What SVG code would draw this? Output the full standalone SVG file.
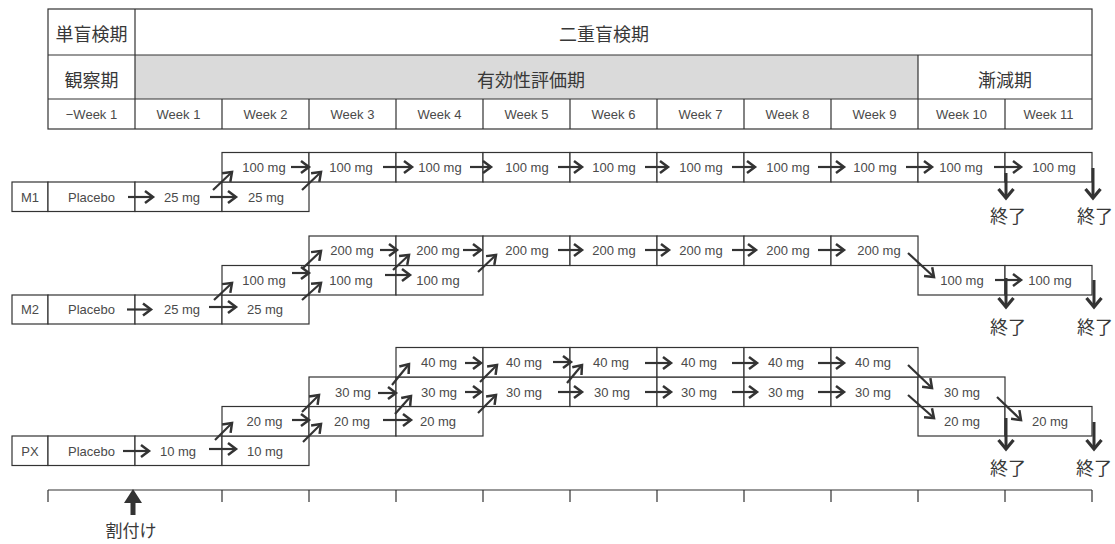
<svg xmlns="http://www.w3.org/2000/svg" width="1115" height="544" viewBox="0 0 1115 544">
<style>
  .cell{fill:#fff;stroke:#333;stroke-width:1.2}
  .ln{stroke:#333;stroke-width:1.2;fill:none}
  .t{font-family:"Liberation Sans",Arial,sans-serif;font-size:13px;fill:#4a4a4a;text-anchor:middle;dominant-baseline:central}
  .j{font-family:"Noto Sans CJK JP","Noto Sans CJK SC",sans-serif;font-size:18px;fill:#383838;text-anchor:middle;dominant-baseline:central}
  .a{stroke:#333;stroke-width:2.2;fill:none;marker-end:url(#ah)}
  .v{stroke:#333;stroke-width:3;fill:none;marker-end:url(#av)}
</style>
<defs>
  <marker id="ah" markerUnits="userSpaceOnUse" markerWidth="16" markerHeight="16" viewBox="-10 -8 12 16" refX="0" refY="0" orient="auto" overflow="visible">
    <path d="M-8,-6 L0,0 L-8,6" fill="none" stroke="#333" stroke-width="2.5"/>
  </marker>
  <marker id="av" markerUnits="userSpaceOnUse" markerWidth="20" markerHeight="20" viewBox="-12 -10 14 20" refX="0" refY="0" orient="auto" overflow="visible">
    <path d="M-9,-7.5 L0,0 L-9,7.5" fill="none" stroke="#333" stroke-width="3.2"/>
  </marker>
</defs>
<rect width="1115" height="544" fill="#fff"/>

<g id="header">
  <rect x="135" y="55" width="783" height="44" fill="#dadada"/>
  <rect x="48" y="9" width="1044" height="120" class="ln"/>
  <line x1="48" y1="55" x2="1092" y2="55" class="ln"/>
  <line x1="48" y1="99" x2="1092" y2="99" class="ln"/>
  <line x1="135" y1="9" x2="135" y2="129" class="ln"/>
  <line x1="918" y1="55" x2="918" y2="129" class="ln"/>
  <path class="ln" d="M222,99V129M309,99V129M396,99V129M483,99V129M570,99V129M657,99V129M744,99V129M831,99V129M1005,99V129"/>
  <text class="j" x="91.5" y="33">単盲検期</text>
  <text class="j" x="604" y="33">二重盲検期</text>
  <text class="j" x="91.5" y="79">観察期</text>
  <text class="j" x="531" y="79">有効性評価期</text>
  <text class="j" x="1005" y="79">漸減期</text>
  <text class="t" x="91.5" y="114">−Week 1</text>
  <text class="t" x="178.5" y="114">Week 1</text>
  <text class="t" x="265.5" y="114">Week 2</text>
  <text class="t" x="352.5" y="114">Week 3</text>
  <text class="t" x="439.5" y="114">Week 4</text>
  <text class="t" x="526.5" y="114">Week 5</text>
  <text class="t" x="613.5" y="114">Week 6</text>
  <text class="t" x="700.5" y="114">Week 7</text>
  <text class="t" x="787.5" y="114">Week 8</text>
  <text class="t" x="874.5" y="114">Week 9</text>
  <text class="t" x="961.5" y="114">Week 10</text>
  <text class="t" x="1048.5" y="114">Week 11</text>
</g>

<g id="M1">
  <rect class="cell" x="12" y="182" width="36" height="29.5"/>
  <rect class="cell" x="48" y="182" width="87" height="29.5"/>
  <rect class="cell" x="135" y="182" width="87" height="29.5"/>
  <rect class="cell" x="222" y="182" width="87" height="29.5"/>
  <rect class="cell" x="222" y="152.5" width="87" height="29.5"/>
  <rect class="cell" x="309" y="152.5" width="87" height="29.5"/>
  <rect class="cell" x="396" y="152.5" width="87" height="29.5"/>
  <rect class="cell" x="483" y="152.5" width="87" height="29.5"/>
  <rect class="cell" x="570" y="152.5" width="87" height="29.5"/>
  <rect class="cell" x="657" y="152.5" width="87" height="29.5"/>
  <rect class="cell" x="744" y="152.5" width="87" height="29.5"/>
  <rect class="cell" x="831" y="152.5" width="87" height="29.5"/>
  <rect class="cell" x="918" y="152.5" width="87" height="29.5"/>
  <rect class="cell" x="1005" y="152.5" width="87" height="29.5"/>
  <text class="t" x="30" y="197">M1</text>
  <text class="t" x="91.5" y="197">Placebo</text>
  <text class="t" x="182" y="197">25 mg</text>
  <text class="t" x="266" y="197">25 mg</text>
  <text class="t" x="264" y="167">100 mg</text>
  <text class="t" x="351" y="167">100 mg</text>
  <text class="t" x="440" y="167">100 mg</text>
  <text class="t" x="527" y="167">100 mg</text>
  <text class="t" x="614" y="167">100 mg</text>
  <text class="t" x="701" y="167">100 mg</text>
  <text class="t" x="788" y="167">100 mg</text>
  <text class="t" x="875" y="167">100 mg</text>
  <text class="t" x="961" y="167">100 mg</text>
  <text class="t" x="1054" y="167">100 mg</text>
  <text class="j" x="1008" y="215">終了</text>
  <text class="j" x="1095" y="215">終了</text>
</g>

<g id="M2">
  <rect class="cell" x="12" y="295" width="36" height="29"/>
  <rect class="cell" x="48" y="295" width="87" height="29"/>
  <rect class="cell" x="135" y="295" width="87" height="29"/>
  <rect class="cell" x="222" y="295" width="87" height="29"/>
  <rect class="cell" x="222" y="265.5" width="87" height="29.5"/>
  <rect class="cell" x="309" y="265.5" width="87" height="29.5"/>
  <rect class="cell" x="396" y="265.5" width="87" height="29.5"/>
  <rect class="cell" x="918" y="265.5" width="87" height="29.5"/>
  <rect class="cell" x="1005" y="265.5" width="87" height="29.5"/>
  <rect class="cell" x="309" y="236" width="87" height="29.5"/>
  <rect class="cell" x="396" y="236" width="87" height="29.5"/>
  <rect class="cell" x="483" y="236" width="87" height="29.5"/>
  <rect class="cell" x="570" y="236" width="87" height="29.5"/>
  <rect class="cell" x="657" y="236" width="87" height="29.5"/>
  <rect class="cell" x="744" y="236" width="87" height="29.5"/>
  <rect class="cell" x="831" y="236" width="87" height="29.5"/>
  <text class="t" x="30" y="309.5">M2</text>
  <text class="t" x="91.5" y="309.5">Placebo</text>
  <text class="t" x="182" y="309.5">25 mg</text>
  <text class="t" x="265" y="309.5">25 mg</text>
  <text class="t" x="264" y="280">100 mg</text>
  <text class="t" x="351" y="280">100 mg</text>
  <text class="t" x="438" y="280">100 mg</text>
  <text class="t" x="962" y="280">100 mg</text>
  <text class="t" x="1050" y="280">100 mg</text>
  <text class="t" x="352" y="250.5">200 mg</text>
  <text class="t" x="438" y="250.5">200 mg</text>
  <text class="t" x="527" y="250.5">200 mg</text>
  <text class="t" x="614" y="250.5">200 mg</text>
  <text class="t" x="701" y="250.5">200 mg</text>
  <text class="t" x="788" y="250.5">200 mg</text>
  <text class="t" x="879" y="250.5">200 mg</text>
  <text class="j" x="1008" y="326">終了</text>
  <text class="j" x="1095" y="326">終了</text>
</g>

<g id="PX">
  <rect class="cell" x="12" y="436" width="36" height="29.5"/>
  <rect class="cell" x="48" y="436" width="87" height="29.5"/>
  <rect class="cell" x="135" y="436" width="87" height="29.5"/>
  <rect class="cell" x="222" y="436" width="87" height="29.5"/>
  <rect class="cell" x="222" y="406.5" width="87" height="29.5"/>
  <rect class="cell" x="309" y="406.5" width="87" height="29.5"/>
  <rect class="cell" x="396" y="406.5" width="87" height="29.5"/>
  <rect class="cell" x="918" y="406.5" width="87" height="29.5"/>
  <rect class="cell" x="1005" y="406.5" width="87" height="29.5"/>
  <rect class="cell" x="309" y="377" width="87" height="29.5"/>
  <rect class="cell" x="396" y="377" width="87" height="29.5"/>
  <rect class="cell" x="483" y="377" width="87" height="29.5"/>
  <rect class="cell" x="570" y="377" width="87" height="29.5"/>
  <rect class="cell" x="657" y="377" width="87" height="29.5"/>
  <rect class="cell" x="744" y="377" width="87" height="29.5"/>
  <rect class="cell" x="831" y="377" width="87" height="29.5"/>
  <rect class="cell" x="918" y="377" width="87" height="29.5"/>
  <rect class="cell" x="396" y="347.5" width="87" height="29.5"/>
  <rect class="cell" x="483" y="347.5" width="87" height="29.5"/>
  <rect class="cell" x="570" y="347.5" width="87" height="29.5"/>
  <rect class="cell" x="657" y="347.5" width="87" height="29.5"/>
  <rect class="cell" x="744" y="347.5" width="87" height="29.5"/>
  <rect class="cell" x="831" y="347.5" width="87" height="29.5"/>
  <text class="t" x="30" y="451">PX</text>
  <text class="t" x="91.5" y="451">Placebo</text>
  <text class="t" x="178" y="451">10 mg</text>
  <text class="t" x="265" y="451">10 mg</text>
  <text class="t" x="264.5" y="421.5">20 mg</text>
  <text class="t" x="352" y="421.5">20 mg</text>
  <text class="t" x="438" y="421.5">20 mg</text>
  <text class="t" x="962" y="421.5">20 mg</text>
  <text class="t" x="1050" y="421.5">20 mg</text>
  <text class="t" x="353" y="392">30 mg</text>
  <text class="t" x="439" y="392">30 mg</text>
  <text class="t" x="524" y="392">30 mg</text>
  <text class="t" x="612" y="392">30 mg</text>
  <text class="t" x="699" y="392">30 mg</text>
  <text class="t" x="786" y="392">30 mg</text>
  <text class="t" x="873" y="392">30 mg</text>
  <text class="t" x="962" y="392">30 mg</text>
  <text class="t" x="439" y="362">40 mg</text>
  <text class="t" x="524" y="362">40 mg</text>
  <text class="t" x="611" y="362">40 mg</text>
  <text class="t" x="699" y="362">40 mg</text>
  <text class="t" x="786" y="362">40 mg</text>
  <text class="t" x="873" y="362">40 mg</text>
  <text class="j" x="1008" y="467">終了</text>
  <text class="j" x="1094" y="467">終了</text>
</g>

<g id="timeline">
  <line x1="48" y1="490" x2="1092" y2="490" class="ln"/>
  <path class="ln" d="M48,490V502M222,490V502M309,490V502M396,490V502M483,490V502M570,490V502M657,490V502M744,490V502M831,490V502M918,490V502M1005,490V502M1092,490V502"/>
  <path d="M133,489 L142,503 L135.5,503 L135.5,515 L130.5,515 L130.5,503 L124,503 Z" fill="#333"/>
  <text class="j" x="131" y="529" style="font-size:17px">割付け</text>
</g>

<g id="connectors">
  <!-- M1 -->
  <path class="a" d="M128,197H153"/>
  <path class="a" d="M210,197H236"/>
  <path class="a" d="M213,190L232,172"/>
  <path class="a" d="M302,190L321,172"/>
  <path class="a" d="M291,167H309"/>
  <path class="a" d="M383,167H412"/>
  <path class="a" d="M470,167H491"/>
  <path class="a" d="M558,167H582"/>
  <path class="a" d="M645,167H668"/>
  <path class="a" d="M732,167H755"/>
  <path class="a" d="M818,167H844"/>
  <path class="a" d="M906,167H932"/>
  <path class="a" d="M994,167H1021"/>
  <path class="v" d="M1006,173V198"/>
  <path class="v" d="M1093,168V198"/>
  <!-- M2 -->
  <path class="a" d="M127,309.5H151"/>
  <path class="a" d="M209,307H236"/>
  <path class="a" d="M214,300L232,283"/>
  <path class="a" d="M302,300L321,283"/>
  <path class="a" d="M303,268L321,251"/>
  <path class="a" d="M292,273H309"/>
  <path class="a" d="M380,250H397"/>
  <path class="a" d="M393,270L409,255"/>
  <path class="a" d="M385,275H410"/>
  <path class="a" d="M463,250H481"/>
  <path class="a" d="M478,272L496,255"/>
  <path class="a" d="M558,250H582"/>
  <path class="a" d="M645,250H669"/>
  <path class="a" d="M732,250H756"/>
  <path class="a" d="M818,250H844"/>
  <path class="a" d="M908,253L934,277"/>
  <path class="a" d="M995,280H1021"/>
  <path class="v" d="M1006,278V307"/>
  <path class="v" d="M1094,280V307"/>
  <!-- PX -->
  <path class="a" d="M123,451H149"/>
  <path class="a" d="M209,449H236"/>
  <path class="a" d="M215,440L232,423"/>
  <path class="a" d="M292,420H309"/>
  <path class="a" d="M303,442L321,424"/>
  <path class="a" d="M302,412L319,395"/>
  <path class="a" d="M383,420H411"/>
  <path class="a" d="M378,393H396"/>
  <path class="a" d="M395,414L411,396"/>
  <path class="a" d="M392,385L409,364"/>
  <path class="a" d="M465,363H481"/>
  <path class="a" d="M480,382L497,365"/>
  <path class="a" d="M465,392H481"/>
  <path class="a" d="M478,413L496,395"/>
  <path class="a" d="M553,362H571"/>
  <path class="a" d="M567,383L582,365"/>
  <path class="a" d="M558,392H582"/>
  <path class="a" d="M645,363H671"/>
  <path class="a" d="M645,392H671"/>
  <path class="a" d="M732,363H757"/>
  <path class="a" d="M732,392H757"/>
  <path class="a" d="M818,363H844"/>
  <path class="a" d="M818,392H844"/>
  <path class="a" d="M908,365L932,388"/>
  <path class="a" d="M908,395L934,418"/>
  <path class="a" d="M997,397L1021,420"/>
  <path class="v" d="M1006,418V449"/>
  <path class="v" d="M1094,422V449"/>
</g>
</svg>
